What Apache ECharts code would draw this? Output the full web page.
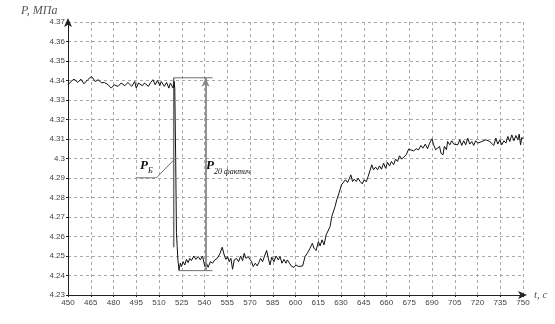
<!DOCTYPE html>
<html>
<head>
<meta charset="utf-8">
<script src="https://cdn.jsdelivr.net/npm/echarts@6/dist/echarts.min.js"></script>
<style>html,body{margin:0;padding:0;background:#fff;}#c{width:555px;height:324px;}</style>
</head>
<body>
<div id="c"></div>
<script>
// time, s
var timeSec = [
450,452,454,456.5,458.5,460.5,463,465.5,468,470,472,474,476.5,478.5,480.5,483,485,487.5,489.5,492,494,495,496.5,499,500.5,503,504.5,506,507.5,509,510.5,511.5,513.5,515,516.5,517.5,519.3,520,
520.4,521,521.5,522,522.5,523.2,
524.1,524.8,525.9,527,528.1,529.2,530.3,531.4,532.9,534.3,535.8,537.3,538.7,540.2,541.3,542.4,543.9,545.3,546.8,548.4,550.1,551.7,553,554.1,555.2,556.3,557.4,558.5,559.6,561.1,562.5,563.8,565.1,566.2,567.3,568.8,569.9,571,572.1,573.5,574.8,576.1,577,578.3,579.6,581,582.3,583.2,584.3,585.8,587.1,588.7,589.8,591.1,592.4,593.7,594.6,595.9,597.5,599,600.3,601.9,
603,604.7,606.3,607.8,609.6,611.1,612.2,613.6,615.1,616.2,617.5,618.8,620.2,621.5,622.8,623.9,625,626.1,627.2,628.3,629.4,630.3,631.6,633,634.3,635.6,636.5,637.6,638.7,640,641.3,642.6,644,645.3,646.6,647.9,649.2,650.3,651.4,652.8,654.1,655.4,656.7,658.1,659.4,660.7,662,663.3,664.7,666,667.3,668.6,670,671.3,673,674.6,
675.7,677.9,679.6,681.2,682.7,684,685.6,687.1,688.4,690,691.1,692.4,693.7,695,695.9,697.3,698.1,699.5,700.3,701.7,703,704.3,705.6,707,708.3,709.6,710.9,712.2,713.6,714.9,716.2,717.5,718.8,720.2,721.5,722.8,724.1,725.5,726.8,728.1,729.4,730.7,732.1,733.4,734.7,736,737.4,738.7,740,741.3,742.6,744,745.3,746.6,747.5,748.4,749.3,750
];
// pressure, MPa
var pressure = [
4.3378,4.3395,4.3407,4.339,4.3407,4.3383,4.3404,4.3421,4.3395,4.3404,4.3388,4.339,4.3378,4.3361,4.3378,4.337,4.3387,4.3373,4.339,4.337,4.3395,4.3361,4.3387,4.3373,4.3387,4.337,4.339,4.3404,4.3378,4.3401,4.3373,4.3395,4.337,4.339,4.3361,4.3387,4.3361,4.3395,
4.336,4.300,4.262,4.2548,4.2478,4.2428,
4.2463,4.2446,4.2471,4.2454,4.2483,4.2466,4.2488,4.2476,4.25,4.2483,4.2497,4.248,4.25,4.2446,4.2463,4.2442,4.2471,4.2463,4.248,4.2488,4.2511,4.2545,4.2505,4.2483,4.2497,4.2471,4.2488,4.2432,4.248,4.2488,4.2471,4.25,4.2476,4.2514,4.2488,4.2497,4.2483,4.2471,4.2446,4.2463,4.2449,4.2471,4.2488,4.2471,4.25,4.2528,4.248,4.2454,4.2494,4.2471,4.25,4.248,4.2497,4.2463,4.2483,4.2463,4.248,4.2471,4.2446,4.2442,4.2454,4.2446,
4.2454,4.2449,4.2497,4.2514,4.254,4.2565,4.254,4.2528,4.2574,4.2552,4.2583,4.2557,4.2608,4.2617,4.2651,4.2702,4.2711,4.2754,4.2788,4.2813,4.2822,4.2865,4.2873,4.2891,4.2877,4.2899,4.2916,4.2882,4.2894,4.2882,4.2899,4.2882,4.287,4.2891,4.288,4.2908,4.2904,4.2968,4.2942,4.2956,4.2942,4.2962,4.2945,4.2976,4.295,4.298,4.2962,4.2985,4.2968,4.2997,4.2985,4.3014,4.2997,4.3007,4.3019,4.3048,
4.3045,4.3039,4.305,4.3045,4.3067,4.3053,4.3074,4.305,4.3079,4.3101,4.307,4.3045,4.3036,4.3062,4.3027,4.3019,4.3062,4.3045,4.3087,4.307,4.3091,4.3074,4.3084,4.307,4.3096,4.3067,4.3091,4.307,4.3104,4.3074,4.3087,4.3067,4.3091,4.3079,4.307,4.3087,4.3079,4.3096,4.3101,4.3087,4.3096,4.3067,4.3104,4.3074,4.3096,4.307,4.3091,4.3079,4.3113,4.3087,4.3121,4.3091,4.3118,4.3096,4.3125,4.307,4.3108,4.3100
];
// axis ticks
var xTicks = {min: 450, max: 750, step: 15};
var yTicks = {min: 4.23, max: 4.37, step: 0.01};
// annotation levels
var levelTop = 4.3414;      // P before the drop
var levelBottom = 4.2425;   // P after the drop
var tDrop = 519.7;
var tArrow = 540.7;
var tLineEnd = 545.3;
var leaderPB = [[494.6, 4.2901], [508.3, 4.2901], [520.4, 4.2998]];

var curve = timeSec.map(function (t, i) { return [t, pressure[i]]; });

var chart = echarts.init(document.getElementById('c'), null, {renderer: 'canvas'});
var axisCol = '#444';
var gridStyle = {color: '#a8a8a8', width: 1, type: [3, 3]};
var annCol = '#707070';
function annLine(pts, w) {
  return {type: 'line', data: pts, symbol: 'none', silent: true, z: 1,
    lineStyle: {color: annCol, width: w || 1}, animation: false};
}
chart.setOption({
  animation: false,
  backgroundColor: '#fff',
  grid: {left: 68, right: 32, top: 22, bottom: 29, containLabel: false},
  xAxis: {
    type: 'value', min: xTicks.min, max: xTicks.max, interval: xTicks.step,
    axisLine: {show: true, lineStyle: {color: '#222', width: 1}, symbol: ['none', 'arrow'], symbolSize: [6, 9], symbolOffset: [0, 4]},
    axisTick: {show: true, length: 2, lineStyle: {color: '#222'}},
    axisLabel: {color: axisCol, fontSize: 8, fontFamily: 'Liberation Sans', margin: 4},
    splitLine: {show: true, lineStyle: gridStyle}
  },
  yAxis: {
    type: 'value', min: yTicks.min, max: yTicks.max, interval: yTicks.step,
    axisLine: {show: true, lineStyle: {color: '#222', width: 1}, symbol: ['none', 'arrow'], symbolSize: [6, 9], symbolOffset: [0, 4]},
    axisTick: {show: true, length: 2, lineStyle: {color: '#222'}},
    axisLabel: {color: axisCol, fontSize: 8, fontFamily: 'Liberation Sans', margin: 3,
      formatter: function (v) { return String(parseFloat(v.toFixed(2))); }},
    splitLine: {show: true, lineStyle: gridStyle}
  },
  series: [
    annLine([[tDrop, levelTop], [tLineEnd, levelTop]], 1),
    annLine([[tDrop, levelTop], [tDrop, 4.2545]], 1.5),
    annLine([[522.9, levelBottom], [tLineEnd, levelBottom]], 1),
    annLine(leaderPB, 1),
    {
      type: 'line', data: [], symbol: 'none', silent: true,
      markLine: {
        silent: true, symbol: ['none', 'arrow'], symbolSize: [6, 9], label: {show: false},
        lineStyle: {color: '#888', width: 1.8, type: 'solid'},
        data: [[{coord: [tArrow, levelBottom]}, {coord: [tArrow, levelTop]}]]
      }
    },
    {
      type: 'line', data: curve, symbol: 'none', silent: true, z: 3,
      lineStyle: {color: '#111', width: 1}
    }
  ],
  graphic: [
    {type: 'text', left: 21, top: 5, style: {text: 'P, МПа', font: 'italic 12px "Liberation Serif"', fill: '#555'}},
    {type: 'text', left: 534, top: 290, style: {text: 't, с', font: 'italic 11px "Liberation Serif"', fill: '#555'}},
    {type: 'text', left: 140, top: 159, style: {text: 'P', font: 'italic bold 13px "Liberation Serif"', fill: '#111'}},
    {type: 'text', left: 148, top: 167, style: {text: 'Б', font: 'italic 8px "Liberation Serif"', fill: '#111'}},
    {type: 'text', left: 206, top: 159, style: {text: 'P', font: 'italic bold 13px "Liberation Serif"', fill: '#111'}},
    {type: 'text', left: 214, top: 168, style: {text: '20 фактич', font: 'italic 8px "Liberation Serif"', fill: '#111'}}
  ]
});
</script>
</body>
</html>
